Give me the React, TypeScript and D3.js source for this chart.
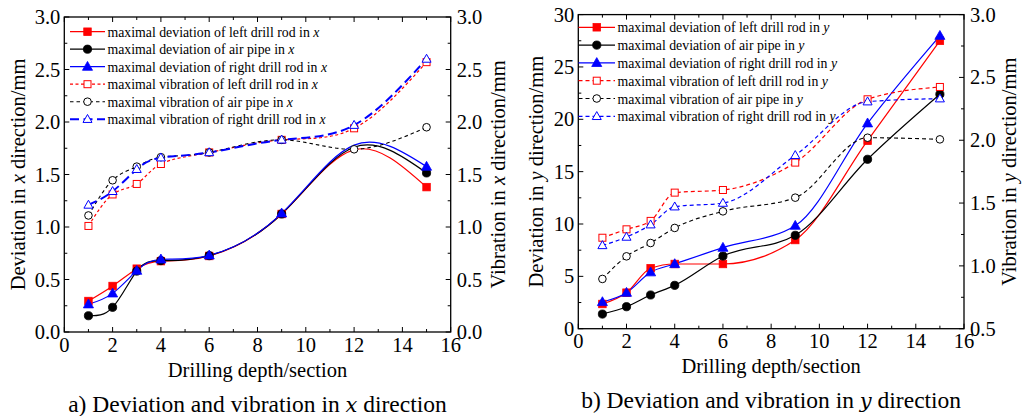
import React from "react";
import * as d3 from "d3";

// Drilling depth (section number) shared by every series
const depthSections = [1, 2, 3, 4, 6, 9, 12, 15];

// x direction: maximal deviation (mm, left axis)
const devLeftRodX = [0.295, 0.438, 0.603, 0.675, 0.724, 1.124, 1.735, 1.38];
const devAirPipeX = [0.155, 0.235, 0.58, 0.68, 0.727, 1.124, 1.76, 1.515];
const devRightRodX = [0.264, 0.368, 0.584, 0.692, 0.73, 1.13, 1.78, 1.575];
// x direction: maximal vibration (mm, right axis)
const vibLeftRodX = [1.01, 1.31, 1.41, 1.6, 1.71, 1.83, 1.94, 2.57];
const vibAirPipeX = [1.11, 1.445, 1.575, 1.665, 1.71, 1.83, 1.74, 1.95];
const vibRightRodX = [1.21, 1.34, 1.55, 1.66, 1.71, 1.83, 1.97, 2.6];

// y direction: maximal deviation (mm, left axis)
const devLeftRodY = [2.36, 3.44, 5.77, 6.18, 6.18, 8.47, 17.96, 27.5];
const devAirPipeY = [1.4, 2.1, 3.22, 4.14, 6.94, 8.92, 16.18, 22.39];
const devRightRodY = [2.55, 3.44, 5.39, 6.18, 7.74, 9.84, 19.62, 27.98];
// y direction: maximal vibration (mm, right axis)
const vibLeftRodY = [1.224, 1.291, 1.358, 1.583, 1.604, 1.822, 2.326, 2.424];
const vibAirPipeY = [0.896, 1.076, 1.182, 1.302, 1.434, 1.543, 2.02, 2.007];
const vibRightRodY = [1.163, 1.23, 1.328, 1.471, 1.5, 1.88, 2.307, 2.331];

// Axis ticks
const depthTicks = [0, 2, 4, 6, 8, 10, 12, 14, 16];
const xPanelTicks = [0, 0.5, 1, 1.5, 2, 2.5, 3];
const yPanelDevTicks = [0, 5, 10, 15, 20, 25, 30];
const yPanelVibTicks = [0.5, 1, 1.5, 2, 2.5, 3];

const FONT = "'Liberation Serif', 'Times New Roman', serif";
const AXIS_FS = 20.5;

type Marker = "square" | "circle" | "triangle";
type Series = {
  name: string;
  axisVar: string;
  values: number[];
  color: string;
  marker: Marker;
  open: boolean;
  dash?: string;
  width: number;
  side: "left" | "right";
  hideAt?: number[];
};

function MarkerShape({ kind, open, color, cx, cy }: { kind: Marker; open: boolean; color: string; cx: number; cy: number }) {
  const fill = open ? "#fff" : color;
  const sw = open ? 1 : 0.8;
  if (kind === "square") {
    const s = open ? 7 : 7.5;
    return <rect x={cx - s / 2} y={cy - s / 2} width={s} height={s} fill={fill} stroke={color} strokeWidth={sw} />;
  }
  if (kind === "circle") {
    return <circle cx={cx} cy={cy} r={open ? 3.8 : 4.1} fill={fill} stroke={color} strokeWidth={sw} />;
  }
  const h = open ? 4.3 : 4.8;
  const pts = `${cx},${cy - h * 1.1} ${cx - h * 1.05},${cy + h * 0.75} ${cx + h * 1.05},${cy + h * 0.75}`;
  return <polygon points={pts} fill={fill} stroke={color} strokeWidth={sw} strokeLinejoin="miter" />;
}

type PanelProps = {
  left: number;
  right: number;
  top: number;
  bottom: number;
  leftDomain: [number, number];
  rightDomain: [number, number];
  leftTicks: number[];
  rightTicks: number[];
  leftMinorStep: number;
  rightMinorStep: number;
  leftFormat: (v: number) => string;
  rightFormat: (v: number) => string;
  dirVar: string;
  caption: string;
  series: Series[];
  curve: d3.CurveFactory;
  legendLineX: [number, number];
  legendTop: number;
  legendStep: number;
  leftTitleX: number;
  rightTitleX: number;
  tickLabelDy: number;
  axisTitleDy: number;
  captionDy: number;
};

function Panel(p: PanelProps) {
  const x = d3.scaleLinear().domain([0, 16]).range([p.left, p.right]);
  const yL = d3.scaleLinear().domain(p.leftDomain).range([p.bottom, p.top]);
  const yR = d3.scaleLinear().domain(p.rightDomain).range([p.bottom, p.top]);

  const minorX = d3.range(0, 16.001, 1);
  const minorL = d3.range(p.leftDomain[0], p.leftDomain[1] + 1e-6, p.leftMinorStep);
  const minorR = d3.range(p.rightDomain[0], p.rightDomain[1] + 1e-6, p.rightMinorStep);
  const major = 5;
  const minor = 3;

  const cy = (p.top + p.bottom) / 2;
  const cx = (p.left + p.right) / 2;

  const lineFor = (s: Series) => {
    const ys = s.side === "left" ? yL : yR;
    return d3
      .line<number>()
      .x((_, i) => x(depthSections[i]))
      .y((v) => ys(v))
      .curve(p.curve)(s.values) as string;
  };

  const ordered = [...p.series.filter((s) => s.side === "left"), ...p.series.filter((s) => s.side === "right")];

  return (
    <g>
      {/* curves */}
      {ordered.map((s, k) => (
        <path key={"l" + k} d={lineFor(s)} fill="none" stroke={s.color} strokeWidth={s.width} strokeDasharray={s.dash} />
      ))}
      {/* markers */}
      {ordered.map((s, k) => {
        const ys = s.side === "left" ? yL : yR;
        return (
          <g key={"m" + k}>
            {s.values.map((v, i) =>
              s.hideAt && s.hideAt.includes(depthSections[i]) ? null : (
                <MarkerShape key={i} kind={s.marker} open={s.open} color={s.color} cx={x(depthSections[i])} cy={ys(v)} />
              )
            )}
          </g>
        );
      })}

      {/* frame */}
      <rect x={p.left} y={p.top} width={p.right - p.left} height={p.bottom - p.top} fill="none" stroke="#000" strokeWidth={1.3} />

      {/* x ticks (bottom & top, inward) */}
      {minorX.map((t) => {
        const isMajor = t % 2 === 0;
        const len = isMajor ? major : minor;
        return (
          <g key={"xt" + t}>
            <line x1={x(t)} x2={x(t)} y1={p.bottom} y2={p.bottom - len} stroke="#000" strokeWidth={1} />
            <line x1={x(t)} x2={x(t)} y1={p.top} y2={p.top + len} stroke="#000" strokeWidth={1} />
          </g>
        );
      })}
      {depthTicks.map((t) => (
        <text key={"xl" + t} x={x(t)} y={p.bottom + p.tickLabelDy} textAnchor="middle" fontSize={AXIS_FS} fontFamily={FONT}>
          {t}
        </text>
      ))}

      {/* left y ticks */}
      {minorL.map((t, i) => {
        const isMajor = p.leftTicks.some((m) => Math.abs(m - t) < 1e-6);
        return (
          <line key={"yl" + i} x1={p.left} x2={p.left + (isMajor ? major : minor)} y1={yL(t)} y2={yL(t)} stroke="#000" strokeWidth={1} />
        );
      })}
      {p.leftTicks.map((t) => (
        <text key={"yll" + t} x={p.left - 4} y={yL(t) + 7} textAnchor="end" fontSize={AXIS_FS} fontFamily={FONT}>
          {p.leftFormat(t)}
        </text>
      ))}

      {/* right y ticks */}
      {minorR.map((t, i) => {
        const isMajor = p.rightTicks.some((m) => Math.abs(m - t) < 1e-6);
        return (
          <line key={"yr" + i} x1={p.right} x2={p.right - (isMajor ? major : minor)} y1={yR(t)} y2={yR(t)} stroke="#000" strokeWidth={1} />
        );
      })}
      {p.rightTicks.map((t) => (
        <text key={"yrl" + t} x={p.right + 6} y={yR(t) + 7} textAnchor="start" fontSize={AXIS_FS} fontFamily={FONT}>
          {p.rightFormat(t)}
        </text>
      ))}

      {/* axis titles */}
      <text x={cx} y={p.bottom + p.axisTitleDy} textAnchor="middle" fontSize={AXIS_FS} fontFamily={FONT}>
        Drilling depth/section
      </text>
      <text transform={`translate(${p.leftTitleX},${cy}) rotate(-90)`} textAnchor="middle" fontSize={AXIS_FS} fontFamily={FONT}>
        Deviation in <tspan fontStyle="italic">{p.dirVar}</tspan> direction/mm
      </text>
      <text transform={`translate(${p.rightTitleX},${cy}) rotate(-90)`} textAnchor="middle" fontSize={AXIS_FS} fontFamily={FONT}>
        Vibration in <tspan fontStyle="italic">{p.dirVar}</tspan> direction/mm
      </text>

      {/* caption */}
      <text x={cx} y={p.bottom + p.captionDy} textAnchor="middle" fontSize={23.5} fontFamily={FONT}>
        {p.caption} <tspan fontStyle="italic" fontFamily="'DejaVu Serif', serif" fontSize={21}>{p.dirVar}</tspan> direction
      </text>

      {/* legend */}
      {p.series.map((s, i) => {
        const ly = p.legendTop + i * p.legendStep;
        const mx = (p.legendLineX[0] + p.legendLineX[1]) / 2;
        return (
          <g key={"lg" + i}>
            <line x1={p.legendLineX[0]} x2={p.legendLineX[1]} y1={ly} y2={ly} stroke={s.color} strokeWidth={s.width} strokeDasharray={s.dash} />
            <MarkerShape kind={s.marker} open={s.open} color={s.color} cx={mx} cy={ly} />
            <text x={p.legendLineX[1] + 2.5} y={ly + 5} fontSize={13.8} fontFamily={FONT}>
              {s.name} <tspan fontStyle="italic">{s.axisVar}</tspan>
            </text>
          </g>
        );
      })}
    </g>
  );
}

export default function App() {
  const xSeries: Series[] = [
    { name: "maximal deviation of left drill rod in", axisVar: "x", values: devLeftRodX, color: "#ff0000", marker: "square", open: false, width: 1.2, side: "left", hideAt: [12] },
    { name: "maximal deviation of air pipe in", axisVar: "x", values: devAirPipeX, color: "#000000", marker: "circle", open: false, width: 1.2, side: "left", hideAt: [12] },
    { name: "maximal deviation of right drill rod in", axisVar: "x", values: devRightRodX, color: "#0000ff", marker: "triangle", open: false, width: 1.2, side: "left", hideAt: [12] },
    { name: "maximal vibration of left drill rod in", axisVar: "x", values: vibLeftRodX, color: "#ff0000", marker: "square", open: true, dash: "3,2.5", width: 1.2, side: "right" },
    { name: "maximal vibration of air pipe in", axisVar: "x", values: vibAirPipeX, color: "#000000", marker: "circle", open: true, dash: "3.5,3", width: 1.1, side: "right" },
    { name: "maximal vibration of right drill rod in", axisVar: "x", values: vibRightRodX, color: "#0000ff", marker: "triangle", open: true, dash: "9,4.5", width: 2, side: "right" },
  ];
  const ySeries: Series[] = [
    { name: "maximal deviation of left drill rod in", axisVar: "y", values: devLeftRodY, color: "#ff0000", marker: "square", open: false, width: 1.2, side: "left" },
    { name: "maximal deviation of air pipe in", axisVar: "y", values: devAirPipeY, color: "#000000", marker: "circle", open: false, width: 1.2, side: "left" },
    { name: "maximal deviation of right drill rod in", axisVar: "y", values: devRightRodY, color: "#0000ff", marker: "triangle", open: false, width: 1.2, side: "left" },
    { name: "maximal vibration of left drill rod in", axisVar: "y", values: vibLeftRodY, color: "#ff0000", marker: "square", open: true, dash: "4,3", width: 1.2, side: "right" },
    { name: "maximal vibration of air pipe in", axisVar: "y", values: vibAirPipeY, color: "#000000", marker: "circle", open: true, dash: "4,3", width: 1.1, side: "right" },
    { name: "maximal vibration of right drill rod in", axisVar: "y", values: vibRightRodY, color: "#0000ff", marker: "triangle", open: true, dash: "4,3", width: 1.2, side: "right" },
  ];

  return (
    <svg width={1022} height={416} style={{ position: "absolute", left: 0, top: 0, background: "#fff" }}>
      <rect width={1022} height={416} fill="#fff" />
      <Panel
        left={64.3}
        right={450.7}
        top={17}
        bottom={332}
        leftDomain={[0, 3]}
        rightDomain={[0, 3]}
        leftTicks={xPanelTicks}
        rightTicks={xPanelTicks}
        leftMinorStep={0.25}
        rightMinorStep={0.25}
        leftFormat={d3.format(".1f")}
        rightFormat={d3.format(".1f")}
        dirVar="x"
        caption="a) Deviation and vibration in"
        series={xSeries}
        curve={d3.curveNatural}
        legendLineX={[70, 105]}
        legendTop={31.7}
        legendStep={17.5}
        leftTitleX={25}
        rightTitleX={505}
        tickLabelDy={20}
        axisTitleDy={45}
        captionDy={80}
      />
      <Panel
        left={578.3}
        right={964}
        top={14.6}
        bottom={328.7}
        leftDomain={[0, 30]}
        rightDomain={[0.5, 3]}
        leftTicks={yPanelDevTicks}
        rightTicks={yPanelVibTicks}
        leftMinorStep={2.5}
        rightMinorStep={0.25}
        leftFormat={d3.format("d")}
        rightFormat={d3.format(".1f")}
        dirVar="y"
        caption="b) Deviation and vibration in"
        series={ySeries}
        curve={d3.curveMonotoneX}
        legendLineX={[578.5, 615]}
        legendTop={27.3}
        legendStep={17.8}
        leftTitleX={543}
        rightTitleX={1016}
        tickLabelDy={19}
        axisTitleDy={44.5}
        captionDy={79.5}
      />
    </svg>
  );
}
